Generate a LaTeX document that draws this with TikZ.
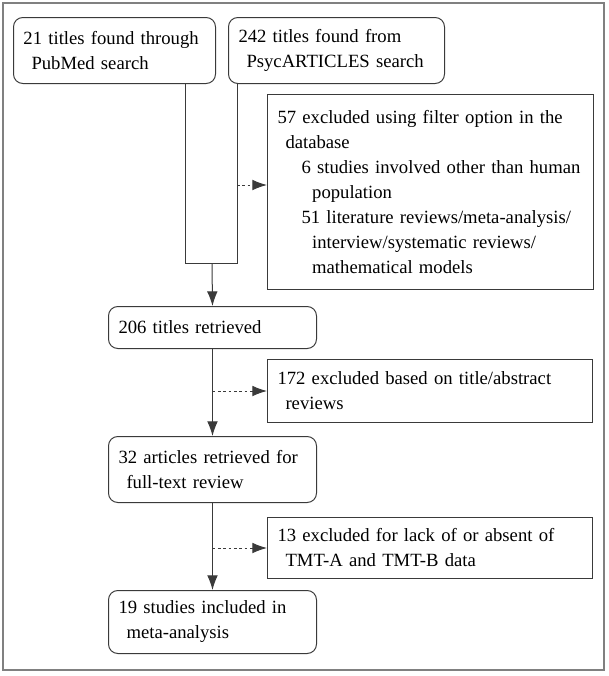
\documentclass[tikz,border=0pt]{standalone}
\usepackage{fontspec}
\setmainfont{Liberation Serif}
\usetikzlibrary{arrows.meta}

\definecolor{linec}{HTML}{3A3A3A}
\definecolor{framec}{HTML}{808080}

\begin{document}
\begin{tikzpicture}[
					x=0.75pt,y=-0.75pt,
					box/.style={draw=linec,line width=0.75pt,rounded corners=7pt,anchor=north west,
						align=left,inner xsep=7.5pt,inner ysep=0pt,
						font=\fontsize{14}{18.75}\selectfont},
					sbox/.style={box,sharp corners},
					arr/.style={draw=linec,line width=0.75pt,-{Latex[length=11pt,width=8pt]}},
					dasharr/.style={arr,dash pattern=on 2pt off 2pt},
					]
					\useasboundingbox (0,0) rectangle (609,676);
					\draw[framec,line width=1pt] (3,3) rectangle (604,670);
					% sources
					\node [box,text width=136.5pt,minimum height=49.5pt] (pubmed) at (13,17)
						{21 titles found through\\\hspace*{6pt}PubMed search};
					\node [box,text width=147pt,minimum height=49.5pt] (psyc) at (228,17)
						{242 titles found from\\\hspace*{6pt}PsycARTICLES search};
					\node [sbox,text width=229.5pt,minimum height=146.25pt] (filt) at (267,94)
						{\mbox{57 excluded using filter option in the}\\
						\hspace*{6pt}database\\
						\hspace*{18pt}\mbox{6 studies involved other than human}\\
						\hspace*{26pt}population\\
						\hspace*{18pt}\mbox{51 literature reviews/meta-analysis/}\\
						\hspace*{26pt}\mbox{interview/systematic reviews/}\\
						\hspace*{26pt}mathematical models};
					% main column
					\node [box,text width=141pt,minimum height=31.5pt] (retr) at (108,306)
						{206 titles retrieved};
					\node [sbox,text width=228.75pt,minimum height=47.25pt] (abst) at (267,359)
						{\mbox{172 excluded based on title/abstract}\\\hspace*{6pt}reviews};
					\node [box,text width=141pt,minimum height=49.5pt] (full) at (108,436)
						{32 articles retrieved for\\\hspace*{6pt}full-text review};
					\node [sbox,text width=228.75pt,minimum height=45.75pt] (tmt) at (267,517)
						{\mbox{13 excluded for lack of or absent of}\\\hspace*{6pt}TMT-A and TMT-B data};
					\node [box,text width=141pt,minimum height=47.25pt] (incl) at (108,590)
						{19 studies included in\\\hspace*{6pt}meta-analysis};
					% connectors
					\coordinate (mL) at (185,263);
					\coordinate (mR) at (237,263);
					\coordinate (mC) at (212,263);
					\coordinate (f1) at (237,185);
					\draw[linec,line width=0.75pt] (mL |- pubmed.south) -- (mL) -- (mR) -- (mR |- psyc.south);
					\draw[arr] (mC) -- (retr.north);
					\draw[dasharr] (f1) -- (f1 -| filt.west);
					\draw[arr] (retr.south) -- (full.north);
					\draw[dasharr] (retr.south |- abst.west) -- (abst.west);
					\draw[arr] (full.south) -- (incl.north);
					\draw[dasharr] (full.south |- tmt.west) -- (tmt.west);
				\end{tikzpicture}
\end{document}
